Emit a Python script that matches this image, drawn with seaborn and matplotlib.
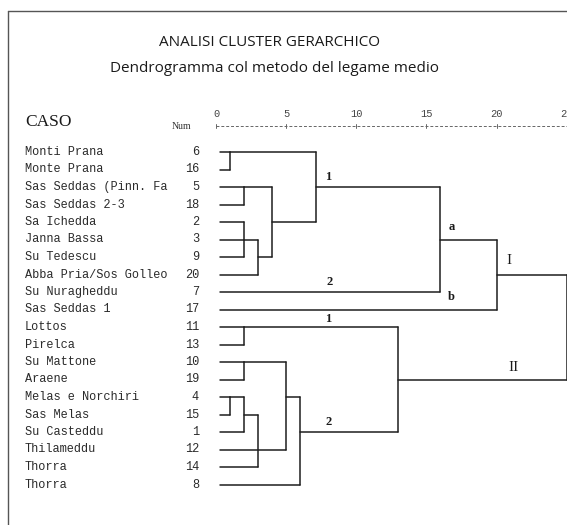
import matplotlib
matplotlib.use("Agg")
import matplotlib.pyplot as plt
import seaborn as sns
import pandas as pd
from matplotlib.lines import Line2D

# ---------------- data ----------------
case_names = ["Monti Prana", "Monte Prana", "Sas Seddas (Pinn. Fa", "Sas Seddas 2-3",
              "Sa Ichedda", "Janna Bassa", "Su Tedescu", "Abba Pria/Sos Golleo",
              "Su Nuragheddu", "Sas Seddas 1", "Lottos", "Pirelca", "Su Mattone",
              "Araene", "Melas e Norchiri", "Sas Melas", "Su Casteddu", "Thilameddu",
              "Thorra", "Thorra"]
case_nums = [6, 16, 5, 18, 2, 3, 9, 20, 7, 17, 11, 13, 10, 19, 4, 15, 1, 12, 14, 8]
scale_ticks = [0, 5, 10, 15, 20, 25]

# merges: id, children (case numbers or merge ids), distance, exit row rule
merge_id = ["A", "B", "C", "D", "E", "F", "G", "H", "J", "K", "L", "M", "N", "O", "P", "Q", "R"]
merge_kids = [[6, 16], [5, 18], [2, 3, 9], ["C", 20], ["B", "D"], ["A", "E"], ["F", 7],
              ["G", 17], [11, 13], [10, 19], [4, 15], ["L", 1], ["M", 14], ["K", 12],
              ["O", 8], ["J", "P"], ["H", "Q"]]
merge_dist = [1.0, 2.0, 2.0, 3.0, 4.0, 7.1, 16.0, 20.0, 2.0, 2.0, 1.0, 2.0, 3.0, 5.0, 6.0, 13.0, 25.0]
merge_exit = ["top", "top", "mid", "mid", "mid", "mid", "mid", "mid", "top", "top", "top",
              "mid", "mid", 14, 16, "mid", "mid"]

# cluster annotations: text, distance, row, size
ann_text = ["1", "2", "a", "b", "I", "II", "1", "2"]
ann_x = [8.0, 8.1, 16.8, 16.8, 20.9, 21.2, 8.0, 8.0]
ann_row = [1.45, 7.45, 4.3, 8.3, 6.2, 12.3, 9.55, 15.45]

# ---------------- figure ----------------
sns.set_theme(style="white")
plt.rcParams["font.family"] = ["DejaVu Sans"]

fig = plt.figure(figsize=(5.67, 5.25), dpi=100)
ax = fig.add_axes([0, 0, 1, 1])
PX0, PXU, PY0, PYU = 216.0, 14.03, 152.0, 17.5

row_of = {n: i for i, n in enumerate(case_nums)}
exit_row = {n: float(row_of[n]) for n in case_nums}
LEAF_X = 0.25
exit_x = {n: LEAF_X for n in case_nums}

recs = []
seg = 0
for mid, kids, d, ex in zip(merge_id, merge_kids, merge_dist, merge_exit):
    rows = [exit_row[k] for k in kids]
    for k in kids:
        recs += [(seg, exit_x[k], exit_row[k]), (seg, d, exit_row[k])]
        seg += 1
    recs += [(seg, d, min(rows)), (seg, d, max(rows))]
    seg += 1
    if ex == "top":
        r = min(rows)
    elif ex == "mid":
        r = (min(rows) + max(rows)) / 2
    else:
        r = float(ex)
    exit_row[mid] = r
    exit_x[mid] = d

df = pd.DataFrame(recs, columns=["seg", "x", "y"])
sns.lineplot(data=df, x="x", y="y", units="seg", estimator=None, sort=False,
             color="#1e1e1e", lw=1.1, ax=ax, legend=False)
for l in ax.lines:
    l.set_clip_on(False)

ax.set_xlim(-PX0 / PXU, (567 - PX0) / PXU)
ax.set_ylim((525 - PY0) / PYU, -PY0 / PYU)
ax.axis("off")

# scale axis
axis_row = -1.49
ax.plot([0, 25], [axis_row, axis_row], ls=(0, (3, 2)), color="#666666", lw=0.7, clip_on=False)
for t in scale_ticks:
    ax.plot([t, t], [axis_row - 0.13, axis_row + 0.13], color="#666666", lw=0.7, clip_on=False)
    ax.text(t, -2.17, str(t), ha="center", va="center", family="Liberation Mono",
            fontsize=7.5, color="#444444")

# case names and numbers
for i, (nm, nu) in enumerate(zip(case_names, case_nums)):
    ax.text(-13.61, i, nm, ha="left", va="center", family="Liberation Mono",
            fontsize=8.6, color="#2a2a2a")
    ax.text(-1.21, i, str(nu), ha="right", va="center", family="Liberation Mono",
            fontsize=8.6, color="#2a2a2a")

ax.text(-13.61, -1.72, "CASO", ha="left", va="center", family="Liberation Serif",
        fontsize=12.5, color="#1a1a1a")
ax.text(-1.78, -1.45, "Num", ha="right", va="center", family="Liberation Serif",
        fontsize=7, color="#333333")

# annotations
for t, x, r in zip(ann_text, ann_x, ann_row):
    big = t in ("I", "II")
    ax.text(x, r, t, ha="center", va="center", family="Liberation Serif",
            fontsize=11 if big else 9, fontweight="normal" if big else "bold",
            color="#1a1a1a")

# titles
fig.text(0.476, 1 - 46 / 525, "ANALISI CLUSTER GERARCHICO", ha="center", va="baseline",
         family="Open Sans", fontsize=11, color="#1a1a1a")
fig.text(0.484, 1 - 72 / 525, "Dendrogramma col metodo del legame medio", ha="center",
         va="baseline", family="Open Sans", fontsize=11, color="#1a1a1a")

# frame (left and top borders)
fig.add_artist(Line2D([8 / 567, 8 / 567], [0, 1 - 11 / 525], transform=fig.transFigure,
                      color="#555555", lw=1.0))
fig.add_artist(Line2D([8 / 567, 1], [1 - 11 / 525, 1 - 11 / 525], transform=fig.transFigure,
                      color="#555555", lw=1.0))

fig.savefig("out.png", dpi=100, facecolor="white")
